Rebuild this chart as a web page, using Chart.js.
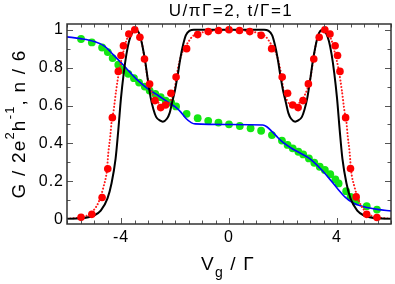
<!DOCTYPE html>
<html>
<head>
<meta charset="utf-8">
<script src="https://cdn.jsdelivr.net/npm/chart.js@4.4.1/dist/chart.umd.min.js"></script>
<style>
  html, body { margin: 0; padding: 0; background: #fff; }
  canvas { display: block; }
</style>
</head>
<body>
<canvas id="myChart" width="395" height="284"></canvas>
<script>
// tick labels
const xLabelTicks = [-4, 0, 4];
const yLabelTicks = [0, 0.2, 0.4, 0.6, 0.8, 1];

// G  (black solid line)
const blackV = [-6, -5.5, -5, -4.75, -4.5, -4.35, -4.2, -4.1, -4, -3.9, -3.8, -3.7, -3.6, -3.45, -3.3, -3.2, -3.1, -3, -2.9, -2.8, -2.7, -2.55, -2.45, -2.3, -2.2, -2.1, -2, -1.9, -1.8, -1.7, -1.6, -1.45, -1.3,
                0,
                1.3, 1.45, 1.6, 1.7, 1.8, 1.9, 2, 2.1, 2.2, 2.3, 2.45, 2.55, 2.7, 2.8, 2.9, 3, 3.1, 3.2, 3.3, 3.45, 3.6, 3.7, 3.8, 3.9, 4, 4.1, 4.2, 4.35, 4.5, 4.75, 5, 5.5, 6];
const blackG = [0.003, 0.005, 0.02, 0.045, 0.11, 0.19, 0.32, 0.47, 0.64, 0.77, 0.87, 0.94, 0.98, 1.0, 0.97, 0.91, 0.83, 0.73, 0.64, 0.58, 0.54, 0.52, 0.515, 0.53, 0.56, 0.62, 0.68, 0.76, 0.85, 0.92, 0.97, 0.995, 1.0,
                1.0,
                1.0, 0.995, 0.97, 0.92, 0.85, 0.76, 0.68, 0.62, 0.56, 0.53, 0.515, 0.52, 0.54, 0.58, 0.64, 0.73, 0.83, 0.91, 0.97, 1.0, 0.98, 0.94, 0.87, 0.77, 0.64, 0.47, 0.32, 0.19, 0.11, 0.045, 0.02, 0.005, 0.003];

// n/6  (blue solid line)
const blueV = [-6, -5.5, -5, -4.6, -4.3, -4, -3.7, -3.4, -3, -2.6, -2.2, -2, -1.8, -1.6, -1.4, -1.25, 0, 1.25, 1.4, 1.6, 1.8, 2, 2.3, 2.6, 3, 3.4, 3.7, 4, 4.3, 4.6, 5, 5.5, 6];
const blueN = [0.962, 0.953, 0.938, 0.912, 0.87, 0.826, 0.78, 0.735, 0.688, 0.65, 0.612, 0.594, 0.568, 0.533, 0.51, 0.503, 0.5, 0.497, 0.488, 0.462, 0.432, 0.405, 0.376, 0.352, 0.318, 0.265, 0.217, 0.165, 0.117, 0.086, 0.066, 0.052, 0.044];

// G  (red symbols)
const redV = [-5.48, -5.08, -4.7, -4.49, -4.32, -4.1, -4.0, -3.91, -3.71, -3.49, -3.3, -3.13, -2.94, -2.74, -2.53, -2.35, -2.15, -1.96, -1.57, -1.16, -0.77, -0.39, 0,
              0.39, 0.77, 1.19, 1.58, 1.97, 2.17, 2.36, 2.56, 2.74, 2.94, 3.14, 3.34, 3.55, 3.74, 3.93, 4.02, 4.11, 4.32, 4.5, 4.71, 5.1, 5.48];
const redG = [0.01, 0.026, 0.115, 0.266, 0.536, 0.78, 0.864, 0.915, 0.977, 1.0, 0.96, 0.845, 0.713, 0.626, 0.589, 0.603, 0.665, 0.75, 0.9, 0.974, 0.99, 0.996, 1.0,
              0.996, 0.99, 0.97, 0.9, 0.75, 0.665, 0.603, 0.589, 0.626, 0.714, 0.845, 0.96, 1.0, 0.977, 0.915, 0.864, 0.78, 0.536, 0.268, 0.118, 0.026, 0.009];

// G  (red dotted line)
const dotV = [-6, -5.5, -5.14, -4.83, -4.65, -4.52, -4.47, -4.4, -4.34, -4.28, -4.18, -4.06, -3.91, -3.79, -3.61, -3.4, -3.24, -3.12, -3, -2.81, -2.59, -2.35, -2.14, -2.02, -1.9, -1.74, -1.53, -1.35, -0.98, -0.5,
              0,
              0.5, 0.98, 1.35, 1.53, 1.74, 1.9, 2.02, 2.14, 2.35, 2.59, 2.81, 3, 3.12, 3.24, 3.4, 3.61, 3.79, 3.91, 4.06, 4.18, 4.28, 4.34, 4.4, 4.47, 4.52, 4.65, 4.83, 5.14, 5.5, 6];
const dotG = [0.003, 0.01, 0.03, 0.09, 0.17, 0.26, 0.35, 0.435, 0.524, 0.568, 0.68, 0.79, 0.885, 0.947, 0.986, 0.99, 0.938, 0.84, 0.735, 0.656, 0.612, 0.598, 0.63, 0.683, 0.79, 0.877, 0.93, 0.965, 0.986, 0.995,
              0.997,
              0.995, 0.986, 0.965, 0.93, 0.877, 0.79, 0.683, 0.63, 0.598, 0.612, 0.656, 0.735, 0.84, 0.938, 0.99, 0.986, 0.947, 0.885, 0.79, 0.68, 0.568, 0.524, 0.435, 0.35, 0.26, 0.17, 0.09, 0.03, 0.01, 0.003];

// n/6  (green symbols)
const greenV = [-5.48, -5.08, -4.7, -4.49, -4.31, -4.1, -3.92, -3.73, -3.52, -3.33, -3.12, -2.94, -2.73, -2.53, -2.35, -2.14, -1.96, -1.57, -1.16, -0.77, -0.39, 0,
                0.4, 0.8, 1.19, 1.59, 1.96, 2.17, 2.36, 2.57, 2.75, 2.96, 3.16, 3.36, 3.55, 3.75, 3.94, 4.06, 4.34, 4.5, 4.71, 5.1, 5.48];
const greenN = [0.951, 0.933, 0.906, 0.882, 0.85, 0.815, 0.788, 0.767, 0.744, 0.721, 0.7, 0.679, 0.661, 0.644, 0.626, 0.615, 0.595, 0.556, 0.533, 0.519, 0.51, 0.501,
                0.492, 0.48, 0.467, 0.444, 0.415, 0.392, 0.374, 0.356, 0.342, 0.321, 0.298, 0.277, 0.26, 0.238, 0.21, 0.189, 0.148, 0.118, 0.095, 0.069, 0.051];

function pts(xs, ys) {
    return xs.map((v, i) => ({ x: v, y: ys[i] }));
}

const FONT = '"Liberation Sans", Arial, Helvetica, sans-serif';

// 文字片段（上标/下标）
function drawPieces(ctx, pieces, x, y, spacing) {
    ctx.letterSpacing = spacing + 'px';
    pieces.forEach(p => {
        ctx.font = p.size + 'px ' + FONT;
        ctx.fillText(p.text, x, y + (p.dy || 0));
        x += ctx.measureText(p.text).width;
    });
}
function piecesWidth(ctx, pieces, spacing) {
    ctx.letterSpacing = spacing + 'px';
    let w = 0;
    pieces.forEach(p => {
        ctx.font = p.size + 'px ' + FONT;
        w += ctx.measureText(p.text).width;
    });
    return w;
}

// 边框 + 向内的刻度 + 标题
const framePlugin = {
    id: 'frame',
    beforeDraw(chart) {
        chart.ctx.letterSpacing = '1px';
    },
    afterDraw(chart) {
        const { ctx, chartArea: a, scales: { x, y } } = chart;
        ctx.save();
        ctx.strokeStyle = '#555';
        ctx.lineWidth = 1;
        ctx.beginPath();
        for (let i = -12; i <= 12; i++) {
            const v = i / 2;
            const px = Math.round(x.getPixelForValue(v)) + 0.5;
            const len = (v % 4 === 0) ? 6 : 3.5;
            ctx.moveTo(px, a.bottom); ctx.lineTo(px, a.bottom - len);
            ctx.moveTo(px, a.top); ctx.lineTo(px, a.top + len);
        }
        for (let i = 0; i <= 10; i++) {
            const py = Math.round(y.getPixelForValue(i / 10)) + 0.5;
            const len = (i % 2 === 0) ? 6 : 3.5;
            ctx.moveTo(a.left, py); ctx.lineTo(a.left + len, py);
            ctx.moveTo(a.right, py); ctx.lineTo(a.right - len, py);
        }
        ctx.stroke();
        ctx.strokeStyle = '#333';
        ctx.lineWidth = 1.5;
        ctx.strokeRect(a.left, a.top, a.width, a.height);

        ctx.fillStyle = '#000';
        ctx.textBaseline = 'alphabetic';
        ctx.textAlign = 'left';
        const cx = (a.left + a.right) / 2;

        // 标题
        const title = [{ text: 'U/πΓ=2, t/Γ=1', size: 17 }];
        drawPieces(ctx, title, cx + 2 - piecesWidth(ctx, title, 1.5) / 2, 16, 1.5);

        // x 轴标题
        const xt = [{ text: 'V', size: 19 }, { text: 'g', size: 14, dy: 7 }, { text: ' / Γ', size: 19 }];
        drawPieces(ctx, xt, cx - 1 - piecesWidth(ctx, xt, 1.2) / 2, 270, 1.2);

        // y 轴标题
        const yt = [{ text: 'G / 2e', size: 19 }, { text: '2', size: 13, dy: -11 },
                    { text: 'h', size: 19 }, { text: '-1', size: 13, dy: -11 },
                    { text: ', n / 6', size: 19 }];
        ctx.translate(25, (a.top + a.bottom) / 2);
        ctx.rotate(-Math.PI / 2);
        drawPieces(ctx, yt, -piecesWidth(ctx, yt, 1.2) / 2, 0, 1.2);
        ctx.restore();
    }
};

const ctx = document.getElementById('myChart').getContext('2d');
const myChart = new Chart(ctx, {
    type: 'scatter',
    data: {
        datasets: [
            {
                label: 'n/6 NRG',
                data: pts(greenV, greenN),
                showLine: false,
                pointRadius: 3.9,
                pointBackgroundColor: '#14e614',
                pointBorderWidth: 0,
                order: 5
            },
            {
                label: 'n/6',
                data: pts(blueV, blueN),
                showLine: true,
                borderColor: '#0000ff',
                borderWidth: 1.6,
                pointRadius: 0,
                cubicInterpolationMode: 'monotone',
                order: 4
            },
            {
                label: 'G dotted',
                data: pts(dotV, dotG),
                showLine: true,
                borderColor: '#ff1a1a',
                borderWidth: 2,
                borderDash: [0.1, 3.2],
                borderCapStyle: 'round',
                pointRadius: 0,
                cubicInterpolationMode: 'monotone',
                order: 3
            },
            {
                label: 'G',
                data: pts(blackV, blackG),
                showLine: true,
                borderColor: '#000',
                borderWidth: 2,
                pointRadius: 0,
                cubicInterpolationMode: 'monotone',
                order: 2
            },
            {
                label: 'G NRG',
                data: pts(redV, redG),
                showLine: false,
                pointRadius: 3.8,
                pointBackgroundColor: '#ff0000',
                pointBorderWidth: 0,
                order: 1
            }
        ]
    },
    options: {
        responsive: false,
        animation: false,
        events: [],
        layout: { padding: { left: 0, right: 1.5, top: 24, bottom: 0 } },
        plugins: {
            legend: { display: false },
            tooltip: { enabled: false },
            title: { display: false }
        },
        scales: {
            x: {
                type: 'linear',
                min: -6,
                max: 6,
                grid: { display: false, drawTicks: false },
                border: { display: false },
                afterBuildTicks: s => { s.ticks = xLabelTicks.map(v => ({ value: v })); },
                afterFit: s => { s.height = 60; },
                ticks: {
                    padding: 4,
                    color: '#000',
                    font: { family: FONT, size: 16 },
                    callback: v => String(v)
                }
            },
            y: {
                type: 'linear',
                min: -0.025,
                max: 1.03,
                grid: { display: false, drawTicks: false },
                border: { display: false },
                afterBuildTicks: s => { s.ticks = yLabelTicks.map(v => ({ value: v })); },
                afterFit: s => { s.width = 67; },
                ticks: {
                    padding: 3,
                    color: '#000',
                    font: { family: FONT, size: 16 },
                    callback: v => (v === 0 || v === 1) ? String(v) : v.toFixed(1)
                }
            }
        }
    },
    plugins: [framePlugin]
});
</script>
</body>
</html>
